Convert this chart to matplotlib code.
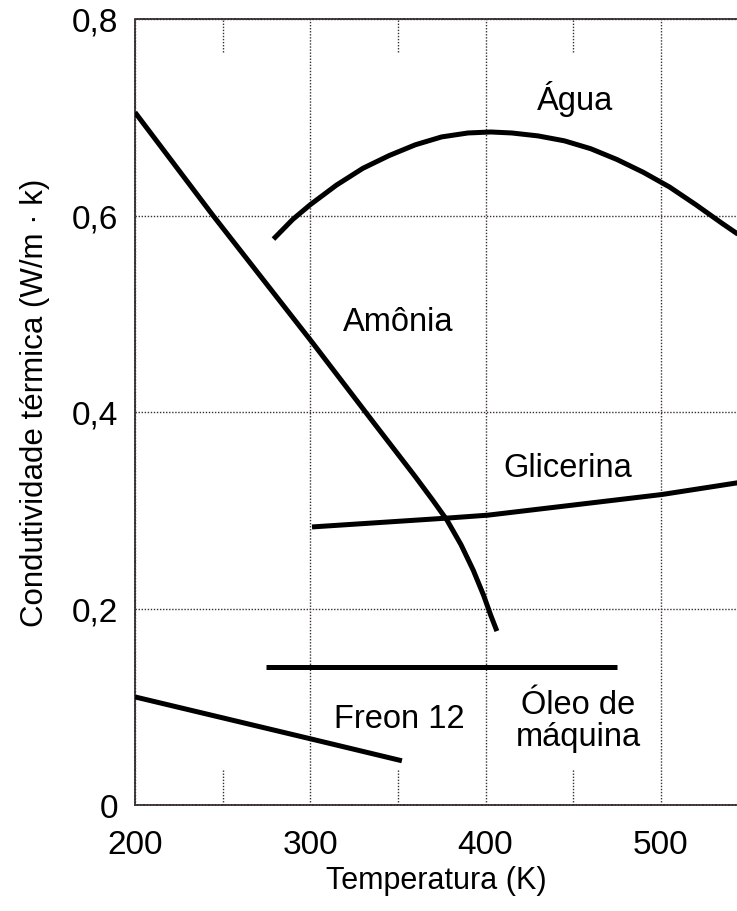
import matplotlib
matplotlib.use("Agg")
import matplotlib.pyplot as plt

plt.rcParams['font.family'] = ['Liberation Sans', 'DejaVu Sans']

# ---- data ----
agua_T = [279, 290, 300, 315, 330, 345, 360, 375, 390, 403, 415, 430, 445, 460, 475, 490, 505, 520, 535, 544]
agua_k = [0.576, 0.596, 0.611, 0.631, 0.648, 0.661, 0.672, 0.680, 0.684, 0.685, 0.684, 0.681, 0.676, 0.668, 0.657, 0.644, 0.629, 0.611, 0.592, 0.581]

amonia_T = [200, 244.5, 301.5, 335.8, 360, 370, 378, 386, 393, 399, 403, 406.5]
amonia_k = [0.705, 0.600, 0.470, 0.390, 0.334, 0.310, 0.290, 0.265, 0.239, 0.213, 0.193, 0.177]

glicerina_T = [301, 378, 401.4, 500.6, 544]
glicerina_k = [0.283, 0.292, 0.295, 0.316, 0.328]

oleo_T = [275, 475]
oleo_k = [0.140, 0.140]

freon_T = [200, 301, 352.3]
freon_k = [0.110, 0.067, 0.045]

x_ticks = [200, 300, 400, 500]
x_minor = [250, 350, 450]
y_ticks = [0, 0.2, 0.4, 0.6, 0.8]
y_labels = ["0", "0,2", "0,4", "0,6", "0,8"]

W, H = 737, 912
fig = plt.figure(figsize=(W / 100, H / 100), dpi=100)
ax = fig.add_axes([135 / W, (H - 806) / H, 1 - 135 / W, (806 - 20) / H])
ax.set_xlim(200, 543.5)
ax.set_ylim(0, 0.8)

lw = 3.6
for T, k in [(agua_T, agua_k), (amonia_T, amonia_k), (glicerina_T, glicerina_k),
             (oleo_T, oleo_k), (freon_T, freon_k)]:
    ax.plot(T, k, color='black', lw=lw, solid_capstyle='butt', solid_joinstyle='round', zorder=3)

# grid and frame
gcol = '#3a3030'
ax.set_xticks(x_ticks)
ax.set_yticks(y_ticks)
ax.set_yticklabels(y_labels)
ax.grid(True, linestyle=(0, (1, 1.2)), color=gcol, lw=1.0)
for s in ['left', 'bottom', 'top']:
    ax.spines[s].set_linestyle((0, (1, 0.8)))
    ax.spines[s].set_color(gcol)
    ax.spines[s].set_linewidth(1.3)
ax.spines['right'].set_visible(False)

for xm in x_minor:
    ax.axvline(xm, ymin=0, ymax=36 / 786, color=gcol, lw=1.0, ls=(0, (1, 1.2)))
    ax.axvline(xm, ymin=1 - 33 / 786, ymax=1, color=gcol, lw=1.0, ls=(0, (1, 1.2)))

ax.tick_params(axis='both', length=0, labelsize=24, colors='black')
ax.tick_params(axis='x', pad=17)
ax.tick_params(axis='y', pad=12)

ax.set_xlabel("Temperatura (K)", fontsize=22, labelpad=4)
ax.set_ylabel("Condutividade térmica (W/m · k)", fontsize=22.5)
ax.yaxis.set_label_coords(-0.142, 0.513)

fs = 23.5
ax.text(451, 0.72, "Água", fontsize=fs, ha='center', va='center')
ax.text(350, 0.492, "Amônia", fontsize=fs, ha='center', va='center')
ax.text(447, 0.344, "Glicerina", fontsize=fs, ha='center', va='center')
ax.text(351, 0.088, "Freon 12", fontsize=fs, ha='center', va='center')
ax.text(453, 0.086, "Óleo de\nmáquina", fontsize=fs, ha='center', va='center', linespacing=1.05)

fig.savefig("out.png", dpi=100)
